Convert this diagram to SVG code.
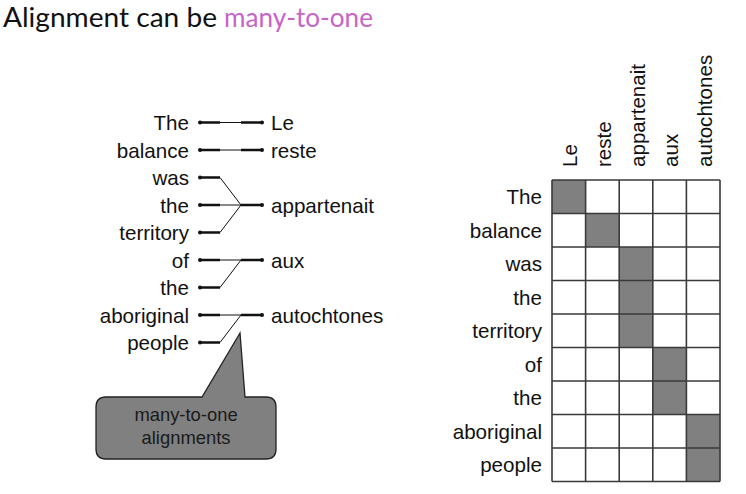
<svg xmlns="http://www.w3.org/2000/svg" width="746" height="494" viewBox="0 0 746 494">
<style>
.t{font-family:"Liberation Sans",Arial,sans-serif;font-size:20.6px;fill:#111}
.r{text-anchor:end}
.title{font-family:Lato,"Open Sans",sans-serif;font-size:27px}
.thick{stroke:#111;stroke-width:2.5;fill:none}
.thin{stroke:#111;stroke-width:1;fill:none}
.dot{fill:#111}
.on{fill:#808080}
.call{fill:#808080;stroke:#222;stroke-width:1.3}
.ct{font-family:"Liberation Sans",Arial,sans-serif;font-size:18.4px;fill:#1a1a1a;text-anchor:middle}
</style>
<g id="title">
<text class="title" x="3" y="27" fill="#111" textLength="214" lengthAdjust="spacingAndGlyphs">Alignment can be</text>
<text class="title" x="224" y="27" fill="#C864C8" textLength="149" lengthAdjust="spacingAndGlyphs">many-to-one</text>
</g>
<g id="source-words">
<text class="t r" x="189" y="130">The</text>
<text class="t r" x="189" y="157.5">balance</text>
<text class="t r" x="189" y="185">was</text>
<text class="t r" x="189" y="212.5">the</text>
<text class="t r" x="189" y="240">territory</text>
<text class="t r" x="189" y="267.5">of</text>
<text class="t r" x="189" y="295">the</text>
<text class="t r" x="189" y="322.5">aboriginal</text>
<text class="t r" x="189" y="350">people</text>
</g>
<g id="target-words">
<text class="t" x="271" y="130">Le</text>
<text class="t" x="271" y="157.5">reste</text>
<text class="t" x="271" y="212.5">appartenait</text>
<text class="t" x="271" y="267.5">aux</text>
<text class="t" x="271" y="322.5">autochtones</text>
</g>
<g id="connectors">
<path class="thick" d="M200 122.5H220M200 150H220M200 177.5H220M200 205H220M200 232.5H220M200 260H220M200 287.5H220M200 315H220M200 342.5H220"/>
<path class="thick" d="M241 122.5H262M241 150H262M241 205H262M241 260H262M241 315H262"/>
<path class="thin" d="M220 122.5H241M220 150H241M220 177.5L241 205M220 205H241M220 232.5L241 205M220 260H241M220 287.5L241 260M220 315H241M220 342.5L241 315"/>
<g class="dot">
<circle cx="200" cy="122.5" r="2"/><circle cx="200" cy="150" r="2"/><circle cx="200" cy="177.5" r="2"/><circle cx="200" cy="205" r="2"/><circle cx="200" cy="232.5" r="2"/><circle cx="200" cy="260" r="2"/><circle cx="200" cy="287.5" r="2"/><circle cx="200" cy="315" r="2"/><circle cx="200" cy="342.5" r="2"/>
<circle cx="262" cy="122.5" r="2"/><circle cx="262" cy="150" r="2"/><circle cx="262" cy="205" r="2"/><circle cx="262" cy="260" r="2"/><circle cx="262" cy="315" r="2"/>
</g>
</g>
<g id="callout">
<path class="call" d="M106 397H202L240 333L245 397H266Q276 397 276 407V449Q276 459 266 459H106Q96 459 96 449V407Q96 397 106 397Z"/>
<text class="ct" x="186" y="421">many-to-one</text>
<text class="ct" x="186" y="444">alignments</text>
</g>
<g id="matrix-cols">
<text class="t" transform="translate(577 167) rotate(-90)">Le</text>
<text class="t" transform="translate(611 167) rotate(-90)">reste</text>
<text class="t" transform="translate(644.5 167) rotate(-90)">appartenait</text>
<text class="t" transform="translate(678 167) rotate(-90)">aux</text>
<text class="t" transform="translate(712 167) rotate(-90)">autochtones</text>
</g>
<g id="matrix-rows">
<text class="t r" x="542" y="204">The</text>
<text class="t r" x="542" y="237.5">balance</text>
<text class="t r" x="542" y="271">was</text>
<text class="t r" x="542" y="304.5">the</text>
<text class="t r" x="542" y="338">territory</text>
<text class="t r" x="542" y="371.5">of</text>
<text class="t r" x="542" y="405">the</text>
<text class="t r" x="542" y="438.5">aboriginal</text>
<text class="t r" x="542" y="472">people</text>
</g>
<g id="matrix">
<rect x="552" y="180" width="168" height="301.5" fill="#fff"/>
<g class="on">
<rect x="552" y="180" width="33.6" height="33.5"/>
<rect x="585.6" y="213.5" width="33.6" height="33.5"/>
<rect x="619.2" y="247" width="33.6" height="100.5"/>
<rect x="652.8" y="347.5" width="33.6" height="67"/>
<rect x="686.4" y="414.5" width="33.6" height="67"/>
</g>
<path stroke="#3a3a3a" stroke-width="1.6" fill="none" d="M552 180V481.5M585.6 180V481.5M619.2 180V481.5M652.8 180V481.5M686.4 180V481.5M720 180V481.5M552 180H720M552 213.5H720M552 247H720M552 280.5H720M552 314H720M552 347.5H720M552 381H720M552 414.5H720M552 448H720M552 481.5H720"/>
</g>
</svg>
